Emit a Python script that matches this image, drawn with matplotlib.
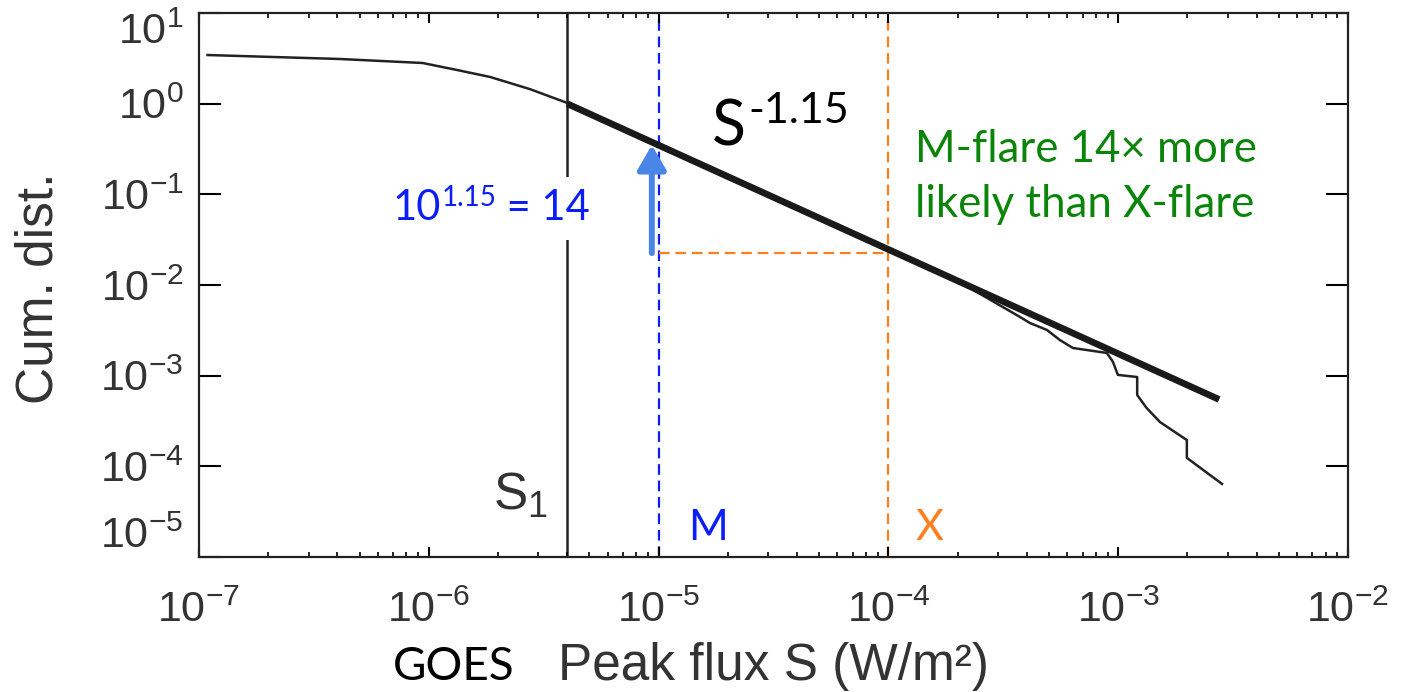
import matplotlib
matplotlib.use('Agg')
import matplotlib.pyplot as plt
from matplotlib.ticker import LogLocator, NullLocator

plt.rcParams['font.family'] = ['Liberation Sans', 'DejaVu Sans']
plt.rcParams['mathtext.fontset'] = 'custom'
plt.rcParams['mathtext.rm'] = 'Liberation Sans'
plt.rcParams['mathtext.it'] = 'Liberation Sans:italic'
plt.rcParams['mathtext.bf'] = 'Liberation Sans:bold'

# observed cumulative distribution of GOES peak flux
flux = [1.09e-7, 4.11e-7, 9.4e-7, 1.33e-6, 1.85e-6, 2.75e-6, 4.0e-6, 1e-5, 3e-5,
        1e-4, 2e-4, 3.74e-4, 4.13e-4, 4.9e-4, 5.58e-4, 6.35e-4, 8.93e-4, 9.49e-4,
        9.97e-4, 1.21e-3, 1.21e-3, 1.33e-3, 1.52e-3, 1.99e-3, 1.99e-3, 2.83e-3]
cum = [3.44, 3.11, 2.81, 2.35, 1.97, 1.45, 1.02, 0.35, 0.0986,
       0.0245, 0.0111, 4.44e-3, 3.81e-3, 3.19e-3, 2.47e-3, 2.02e-3, 1.78e-3, 1.42e-3,
       1.02e-3, 9.66e-4, 6.12e-4, 4.4e-4, 3.08e-4, 1.95e-4, 1.24e-4, 6.4e-5]

# power law fit S^-1.15 above S1
fit_flux = [4.0e-6, 2.75e-3]
fit_cum = [1.0, 5.46e-4]

S1 = 4.0e-6
M_level = 1e-5
X_level = 1e-4
cum_X = 0.0225
cum_M = 0.35
arrow_x = 9.35e-6

yticks = [1e-5, 1e-4, 1e-3, 1e-2, 1e-1, 1e0, 1e1]

blue = '#0a1ef5'
orange = '#ff7f1e'
green = '#0a850a'
gray = '#333333'
callout = ['Lato', 'DejaVu Sans']

fig = plt.figure(figsize=(14.05, 6.92), dpi=100)
ax = fig.add_axes([0.1416, 0.1951, 0.8178, 0.7861])
ax.set_xscale('log')
ax.set_yscale('log')
ax.set_xlim(1e-7, 1e-2)
ax.set_ylim(1e-5, 1e1)

ax.plot(flux, cum, color='#222222', lw=1.8, zorder=2)
ax.plot(fit_flux, fit_cum, color='#1a1a1a', lw=4.8, solid_capstyle='butt', zorder=2)

ax.axvline(S1, color='#222222', lw=1.8, zorder=1)
dash = (0, (4.8, 2.6))
ax.axvline(M_level, color=blue, lw=1.6, linestyle=dash, zorder=1)
ax.axvline(X_level, color=orange, lw=1.6, linestyle=dash, zorder=1)
ax.plot([M_level, X_level], [cum_X, cum_X], color=orange, lw=1.6, linestyle=dash, zorder=1)

ax.annotate('', xy=(arrow_x, cum_M), xytext=(arrow_x, cum_X),
            arrowprops=dict(arrowstyle='-|>,head_length=0.55,head_width=0.32',
                            color='#4a86e8', lw=4.3, mutation_scale=27,
                            shrinkA=0, shrinkB=0))

# S^-1.15 label
s_main = ax.text(1.71e-5, 0.35, 'S', fontsize=45, family=callout, va='baseline', color='black')
ax.annotate('-1.15', xy=(1.0, 0.612), xycoords=(s_main, 'data'), xytext=(2, 0),
            textcoords='offset points', fontsize=31, family=callout, va='baseline', color='black')

# 10^1.15 = 14 label, on a white text box that hides the S1 line
t10 = ax.text(6.98e-7, 0.052, '10', fontsize=30, family=callout, va='baseline',
              color=blue, zorder=6)
sup = ax.annotate('1.15', xy=(1.0, 0.0743), xycoords=(t10, 'data'), fontsize=20,
                  family=callout, va='baseline', color=blue, zorder=6)
ax.annotate(' = 14', xy=(1.0, 0.052), xycoords=(sup, 'data'), fontsize=30,
            family=callout, va='baseline', color=blue, zorder=5,
            bbox=dict(fc='white', ec='none', pad=9))

ax.text(1.31e-4, 0.228, 'M-flare 14\u00d7 more', fontsize=31.5, family=callout, va='baseline', color=green)
ax.text(1.31e-4, 0.0562, 'likely than X-flare', fontsize=31.5, family=callout, va='baseline', color=green)

ax.text(1.34e-5, 1.54e-5, 'M', fontsize=31, family=callout, va='baseline', color=blue)
ax.text(1.31e-4, 1.54e-5, 'X', fontsize=31, family=callout, va='baseline', color=orange)
ax.text(1.9e-6, 3.3e-5, r'$\mathrm{S}_1$', fontsize=37, va='baseline', color=gray)

ax.xaxis.set_major_locator(LogLocator(base=10, numticks=10))
ax.xaxis.set_minor_locator(LogLocator(base=10, subs=range(2, 10), numticks=20))
ax.set_yticks(yticks)
ax.yaxis.set_minor_locator(NullLocator())

ax.tick_params(axis='x', which='major', direction='in', length=7, width=1.5,
               top=True, bottom=True, pad=24, labelsize=31, labelcolor=gray)
ax.tick_params(axis='x', which='minor', direction='in', length=3.5, width=1.2,
               top=True, bottom=True)
ax.tick_params(axis='y', which='major', direction='in', length=16, width=1.5,
               left=True, right=True, pad=11, labelsize=31, labelcolor=gray)
for sp in ax.spines.values():
    sp.set_linewidth(1.6)
    sp.set_color('#222222')

# end labels of the y axis sit inside the frame
ytick_objs = ax.yaxis.get_major_ticks()
ytick_objs[0].label1.set_va('bottom')
ytick_objs[-1].label1.set_va('top')

ax.set_xlabel('Peak flux S (W/m\u00b2)', fontsize=37, color=gray)
ax.xaxis.label.set_va('baseline')
ax.xaxis.set_label_coords(0.5, -0.226)
ax.set_ylabel('Cum. dist.', fontsize=37, color=gray)
ax.yaxis.set_label_coords(-0.118, 0.494)
ax.text(0.169, -0.226, 'GOES', transform=ax.transAxes, fontsize=33, family=callout,
        va='baseline', color='black')

fig.savefig('out.png', dpi=100)
